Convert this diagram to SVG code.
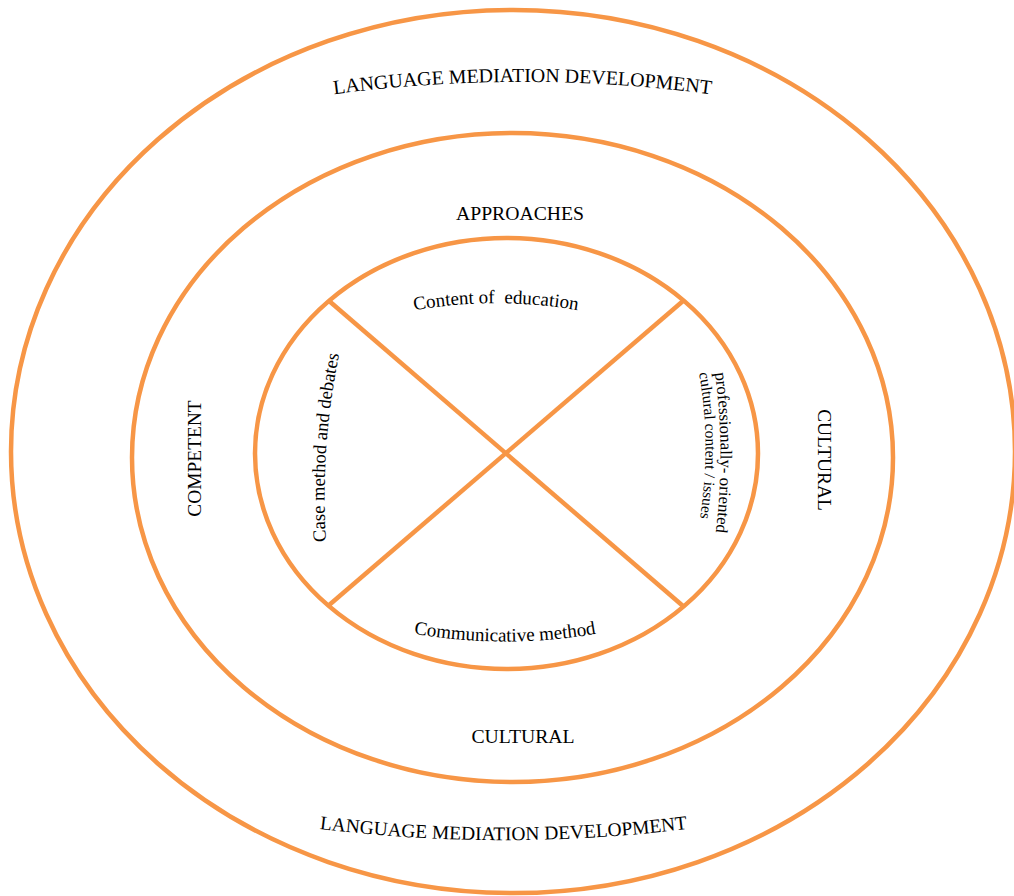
<svg xmlns="http://www.w3.org/2000/svg" xmlns:xlink="http://www.w3.org/1999/xlink" width="1014" height="896" viewBox="0 0 1014 896">
<style>
.ring{fill:none;stroke:#F79646;stroke-width:4.5}
.line{stroke:#F79646;stroke-width:4.5;fill:none}
.t{font-family:"Liberation Serif","Times New Roman",serif;fill:#000}
.big{font-size:19.7px}
.mid{font-size:19px}
</style>
<defs>
<path id="pTop" d="M 300 99 A 1458 1458 0 0 1 745 99"/>
<path id="pBot" d="M 280 823.5 A 1507 1507 0 0 0 727 823.5"/>
<path id="pContent" d="M 386 316 A 480 480 0 0 1 606 316"/>
<path id="pComm" d="M 385 628 A 540 540 0 0 0 625 628"/>
<path id="pCase" d="M 327 556 Q 318 450 342 340"/>
<path id="pProf1" d="M 715 373 Q 726 453 715 540"/>
<path id="pProf2" d="M 699 373 Q 712 445 699 525"/>
</defs>
<rect width="1014" height="896" fill="#fff"/>
<g id="outer">
<ellipse class="ring" cx="513" cy="451.5" rx="502" ry="441.5"/>
<text class="t" font-size="19.9"><textPath href="#pTop" xlink:href="#pTop" startOffset="50%" text-anchor="middle">LANGUAGE MEDIATION DEVELOPMENT</textPath></text>
<text class="t" font-size="19.4"><textPath href="#pBot" xlink:href="#pBot" startOffset="50%" text-anchor="middle">LANGUAGE MEDIATION DEVELOPMENT</textPath></text>
</g>
<g id="middle">
<ellipse class="ring" cx="512.5" cy="457.5" rx="380.5" ry="324.5"/>
<text class="t big" x="520" y="220" text-anchor="middle">APPROACHES</text>
<text class="t big" x="523" y="743" text-anchor="middle">CULTURAL</text>
<text class="t" font-size="19.4" transform="translate(201,458.5) rotate(-90)" text-anchor="middle">COMPETENT</text>
<text class="t" font-size="19.4" transform="translate(818,460) rotate(90)" text-anchor="middle">CULTURAL</text>
</g>
<g id="inner">
<ellipse class="ring" cx="506.5" cy="453.5" rx="251.5" ry="215.5"/>
</g>
<g id="connectors">
<line class="line" x1="328" y1="300" x2="683" y2="606"/>
<line class="line" x1="683" y1="301" x2="328" y2="606"/>
</g>
<g id="content">
<text class="t mid" xml:space="preserve"><textPath href="#pContent" xlink:href="#pContent" startOffset="50%" text-anchor="middle">Content of&#160; education</textPath></text>
</g>
<g id="communicative">
<text class="t mid"><textPath href="#pComm" xlink:href="#pComm" startOffset="50%" text-anchor="middle">Communicative method</textPath></text>
</g>
<g id="case">
<text class="t" font-size="18.6"><textPath href="#pCase" xlink:href="#pCase" startOffset="50%" text-anchor="middle">Case method and debates</textPath></text>
</g>
<g id="professional">
<text class="t" font-size="16.8"><textPath href="#pProf1" xlink:href="#pProf1" startOffset="0">professionally- oriented</textPath></text>
<text class="t" font-size="15.5"><textPath href="#pProf2" xlink:href="#pProf2" startOffset="0">cultural content / issues</textPath></text>
</g>
</svg>
